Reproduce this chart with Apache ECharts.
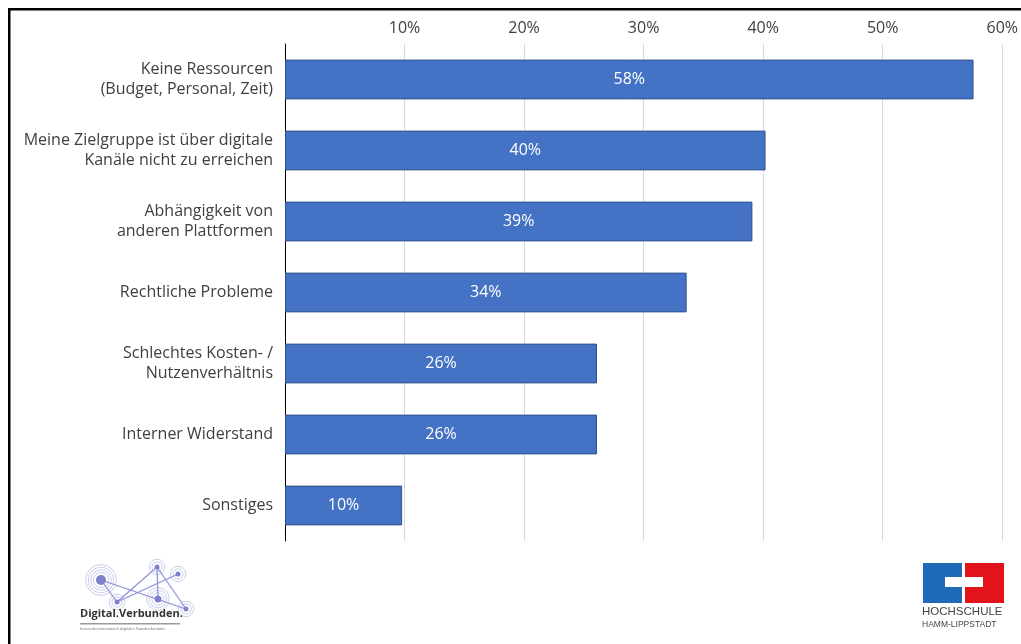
<!DOCTYPE html>
<html>
<head>
<meta charset="utf-8">
<script src="https://cdn.jsdelivr.net/npm/echarts@6/dist/echarts.min.js"></script>
<style>
  html, body { margin: 0; padding: 0; background: #fff; }
  #chart { width: 1021px; height: 644px; }
</style>
</head>
<body>
<div id="chart"></div>
<script>
// Hindernisse bei der Nutzung digitaler Kanäle (Anteil der Nennungen in %)
const categories = [
  'Keine Ressourcen\n(Budget, Personal, Zeit)',
  'Meine Zielgruppe ist über digitale\nKanäle nicht zu erreichen',
  'Abhängigkeit von\nanderen Plattformen',
  'Rechtliche Probleme',
  'Schlechtes Kosten- /\nNutzenverhältnis',
  'Interner Widerstand',
  'Sonstiges'
];
const shares = [57.6, 40.2, 39.1, 33.6, 26.1, 26.1, 9.8];
const tickValues = [10, 20, 30, 40, 50, 60];

const FONT = '"Open Sans", Lato, sans-serif';
const chart = echarts.init(document.getElementById('chart'), null, { renderer: 'canvas' });

// Logo "Digital.Verbunden.": Knoten mit Ringen und Verbindungslinien
const nodes = [
  { x: 101, y: 580, r: 5, rings: 4 },
  { x: 117, y: 602, r: 2.5, rings: 2 },
  { x: 157, y: 567, r: 2.5, rings: 2 },
  { x: 178, y: 574, r: 2.5, rings: 2 },
  { x: 158, y: 599, r: 3.5, rings: 3 },
  { x: 186, y: 609, r: 2.5, rings: 2 }
];
const links = [[0, 5], [0, 1], [1, 2], [1, 3], [2, 4], [2, 5]];
const logoParts = [];
links.forEach(([a, b]) => {
  logoParts.push({
    type: 'line',
    shape: { x1: nodes[a].x, y1: nodes[a].y, x2: nodes[b].x, y2: nodes[b].y },
    style: { stroke: '#8a90d6', lineWidth: 1.2 }
  });
});
nodes.forEach(n => {
  for (let i = n.rings; i >= 1; i--) {
    logoParts.push({
      type: 'circle',
      shape: { cx: n.x, cy: n.y, r: n.r + i * 2.6 },
      style: { fill: 'none', stroke: 'rgba(150,155,220,0.5)', lineWidth: 1 }
    });
  }
  logoParts.push({
    type: 'circle',
    shape: { cx: n.x, cy: n.y, r: n.r },
    style: { fill: '#7c83cc' }
  });
});
logoParts.push(
  { type: 'text', left: 80, top: 608,
    style: { text: 'Digital.Verbunden.', fill: '#333', font: 'bold 11px ' + FONT } },
  { type: 'rect', shape: { x: 80, y: 623, width: 100, height: 1.5 }, style: { fill: '#999' } },
  { type: 'text', left: 80, top: 627,
    style: { text: 'Innovationsnetzwerk digitaler Kundenkontakt', fill: '#666', font: '4px ' + FONT } }
);

// Logo Hochschule Hamm-Lippstadt
const hshl = [
  { type: 'rect', shape: { x: 923, y: 563, width: 39, height: 40 }, style: { fill: '#1f6bb8' } },
  { type: 'rect', shape: { x: 965, y: 563, width: 39, height: 40 }, style: { fill: '#e3131b' } },
  { type: 'rect', shape: { x: 945, y: 577, width: 38, height: 10 }, style: { fill: '#fff' } },
  { type: 'text', left: 922, top: 606,
    style: { text: 'HOCHSCHULE', fill: '#444', font: '11.5px "Liberation Sans", sans-serif' } },
  { type: 'text', left: 922, top: 620,
    style: { text: 'HAMM-LIPPSTADT', fill: '#444', font: '8.5px "Liberation Sans", sans-serif' } }
];

chart.setOption({
  animation: false,
  backgroundColor: '#fff',
  textStyle: { fontFamily: FONT },
  grid: { left: 285, right: 18, top: 44, bottom: 103, containLabel: false },
  xAxis: {
    type: 'value',
    position: 'top',
    min: 0,
    max: 60,
    interval: 10,
    axisLine: { show: false },
    axisTick: { show: false },
    axisLabel: {
      color: '#404040',
      fontSize: 16,
      margin: 8,
      formatter: v => (tickValues.includes(v) ? v + '%' : '')
    },
    splitLine: { show: true, lineStyle: { color: '#d9d9d9', width: 1 } }
  },
  yAxis: {
    type: 'category',
    data: categories,
    inverse: true,
    axisLine: { show: true, lineStyle: { color: '#000', width: 1 } },
    axisTick: { show: false },
    axisLabel: {
      color: '#404040',
      fontSize: 16,
      lineHeight: 20,
      margin: 12,
      align: 'right'
    }
  },
  series: [{
    type: 'bar',
    data: shares,
    barCategoryGap: '44%',
    itemStyle: { color: '#4472c4', borderColor: '#2f528f', borderWidth: 1 },
    label: {
      show: true,
      position: 'inside',
      color: '#fff',
      fontSize: 16,
      formatter: p => Math.round(p.value) + '%'
    }
  }],
  graphic: [
    // Rahmen oben und links
    { type: 'rect', shape: { x: 8, y: 8, width: 1013, height: 2.5 }, style: { fill: '#000' } },
    { type: 'rect', shape: { x: 8, y: 8, width: 2.5, height: 636 }, style: { fill: '#000' } },
    ...logoParts,
    ...hshl
  ]
});
</script>
</body>
</html>
